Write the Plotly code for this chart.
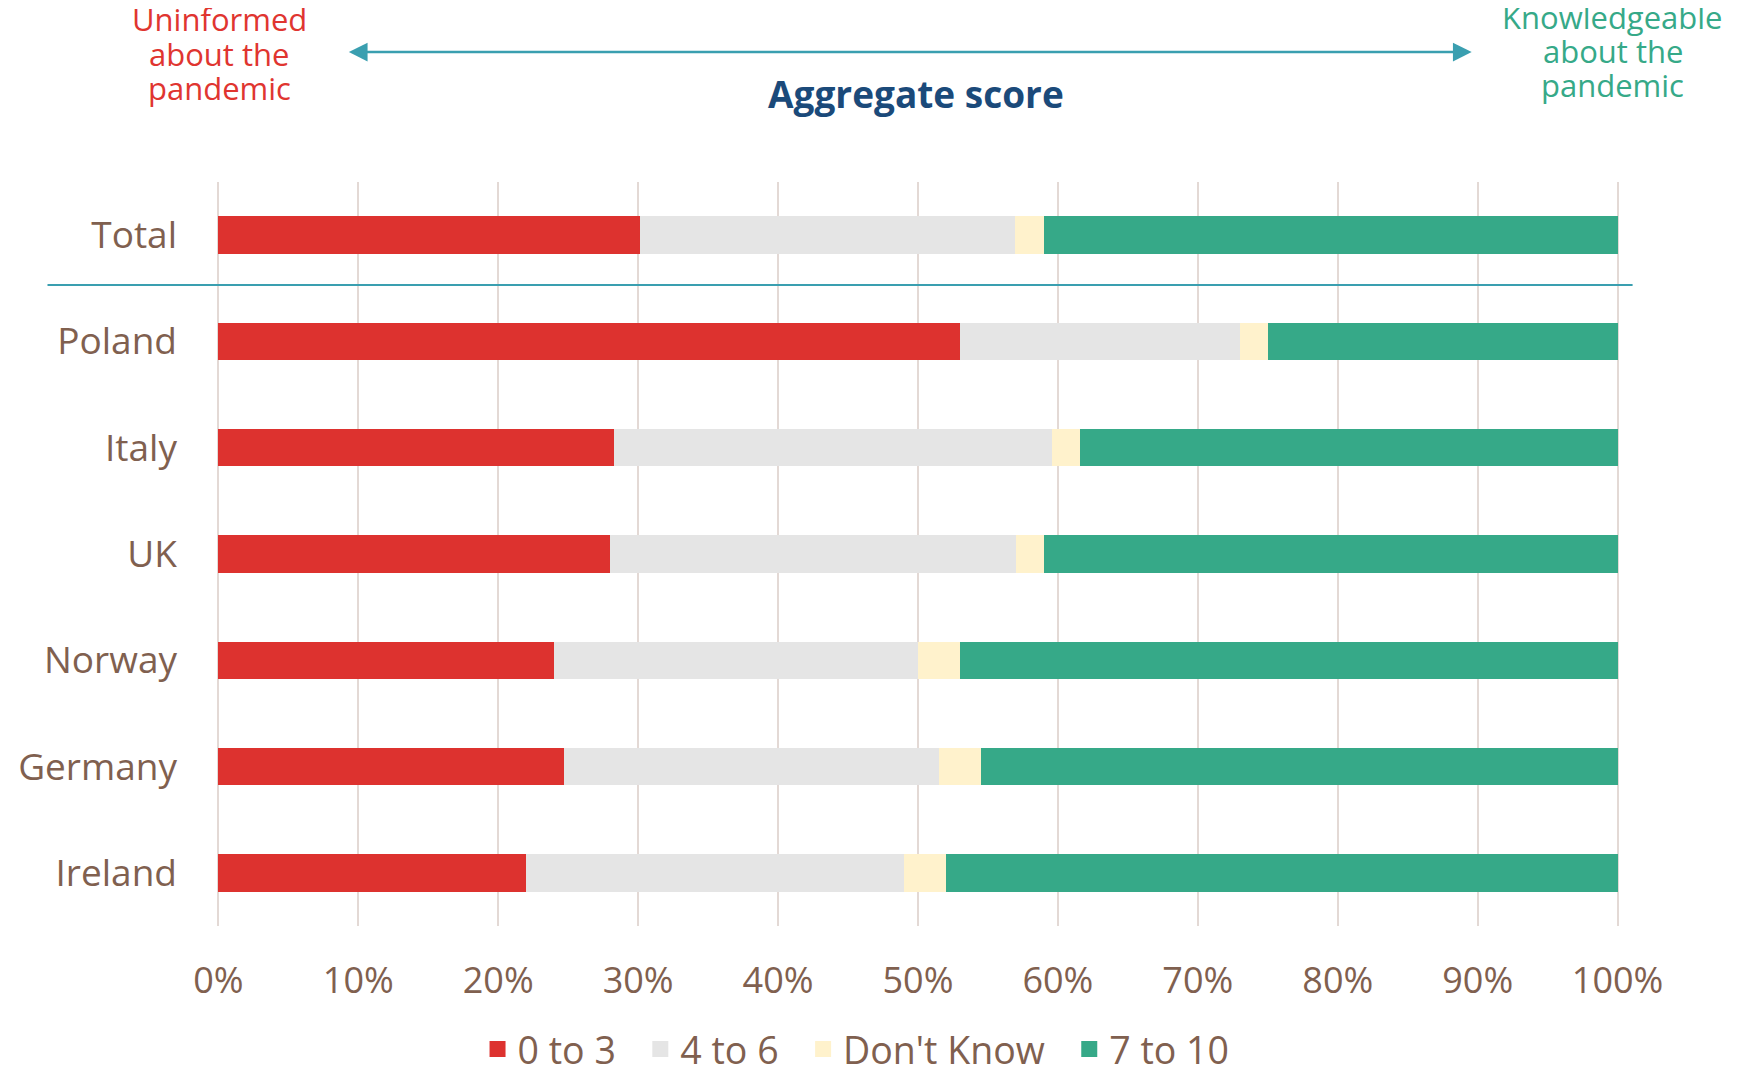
import plotly.graph_objects as go

categories = ["Total", "Poland", "Italy", "UK", "Norway", "Germany", "Ireland"]
series_names = ["0 to 3", "4 to 6", "Don't Know", "7 to 10"]
low_0_3 = [30.1, 53.0, 28.3, 28.0, 24.0, 24.7, 22.0]
mid_4_6 = [26.8, 20.0, 31.3, 29.0, 26.0, 26.8, 27.0]
dont_know = [2.1, 2.0, 2.0, 2.0, 3.0, 3.0, 3.0]
high_7_10 = [41.0, 25.0, 38.4, 41.0, 47.0, 45.5, 48.0]
x_ticks = [0, 10, 20, 30, 40, 50, 60, 70, 80, 90, 100]
x_tick_text = [f"{v}%" for v in x_ticks]

colors = ["#dd322f", "#e5e5e5", "#fff2cc", "#36a988"]
series = [low_0_3, mid_4_6, dont_know, high_7_10]

FONT = "Open Sans"
BROWN = "#80604f"

fig = go.Figure()
for name, vals, col in zip(series_names, series, colors):
    fig.add_trace(go.Bar(
        y=categories, x=vals, name=name, orientation="h",
        marker=dict(color=col, line=dict(width=0)),
        hoverinfo="x+y+name", showlegend=False,
    ))
# legend entries (larger square swatches), spaced like the reference
for i, (name, col) in enumerate(zip(series_names, colors)):
    pad = "\u00a0\u00a0" if i < len(series_names) - 1 else ""
    fig.add_trace(go.Scatter(
        x=[None], y=[None], mode="markers", name=name + pad,
        marker=dict(symbol="square", size=16, color=col), showlegend=True,
    ))

OFF = 8  # page body margin
W, H = 1742, 1069
X0, X100 = 218 - OFF, 1618 - OFF
PLOT_TOP, PLOT_BOT = 182 - OFF, 926 - OFF
PAD = 0.1
scale = (X100 - X0) / 100.0
L = X0 - PAD * scale
Rr = W - (X100 + PAD * scale)
T = PLOT_TOP
B = H - PLOT_BOT
plot_h = PLOT_BOT - PLOT_TOP
plot_w = W - L - Rr


def py(p):
    return (PLOT_BOT - (p - OFF)) / plot_h


def px(p):
    return ((p - OFF) - L) / plot_w


annotations = []
for i, line in enumerate(["Uninformed", "about the", "pandemic"]):
    annotations.append(dict(text=line, x=px(219), y=py([19, 54, 88][i]), xref="paper", yref="paper",
                            showarrow=False, xanchor="center", yanchor="middle",
                            font=dict(family=FONT, size=31, color="#e03530")))
for i, line in enumerate(["Knowledgeable", "about the", "pandemic"]):
    annotations.append(dict(text=line, x=px(1613), y=py([17, 51, 85][i]), xref="paper", yref="paper",
                            showarrow=False, xanchor="center", yanchor="middle",
                            font=dict(family=FONT, size=31, color="#36a988")))
annotations.append(dict(text="<b>Aggregate score</b>", x=px(916), y=py(93), xref="paper", yref="paper",
                        showarrow=False, xanchor="center", yanchor="middle",
                        font=dict(family=FONT, size=37, color="#1b4a7a")))
# double-headed arrow
annotations.append(dict(text="", x=(1472 - 218) / 14, y=py(52), xref="x", yref="paper",
                        ax=(347 - 218) / 14, ay=0, axref="x", ayref="pixel",
                        showarrow=True, arrowside="end+start", arrowhead=2, startarrowhead=2,
                        arrowsize=1.5, startarrowsize=1.5, arrowwidth=2.5, arrowcolor="#3a9fb0"))

fig.update_layout(
    width=W, height=H,
    margin=dict(l=L, r=Rr, t=T, b=B, autoexpand=False),
    barmode="stack", bargap=0.647,
    plot_bgcolor="white", paper_bgcolor="white",
    font=dict(family=FONT, color=BROWN),
    xaxis=dict(range=[-PAD, 100 + PAD], tickvals=x_ticks, ticktext=x_tick_text, showgrid=True,
               gridcolor="#e3d9d5", gridwidth=2, zeroline=False, showline=False,
               tickfont=dict(size=36, color=BROWN), ticklabelstandoff=30),
    yaxis=dict(categoryorder="array", categoryarray=categories, range=[6.5, -0.5],
               showgrid=False, zeroline=False, showline=False,
               tickfont=dict(size=37, color=BROWN), ticklabelstandoff=39),
    legend=dict(orientation="h", x=px(856), xanchor="center", y=py(1049), yanchor="middle",
                font=dict(size=37.5, color=BROWN), traceorder="normal", itemwidth=30),
    annotations=annotations,
    shapes=[dict(type="line", xref="paper", yref="paper", x0=px(47), x1=px(1633),
                 y0=py(285), y1=py(285), line=dict(color="#3a9fb0", width=1.8), layer="above")],
)

fig.write_html("out.html")
